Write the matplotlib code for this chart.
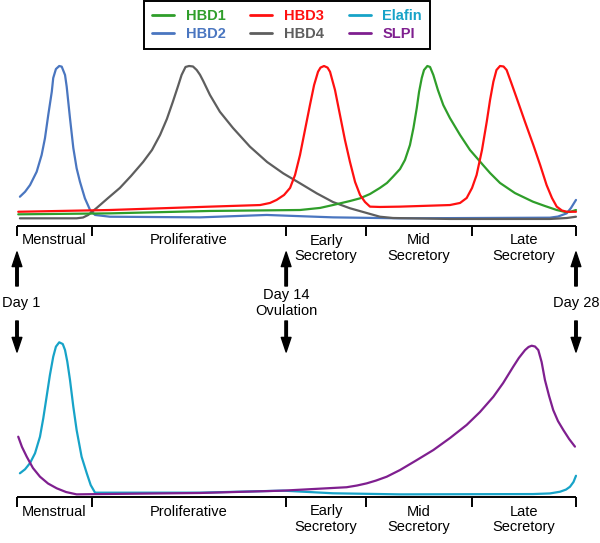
import matplotlib.pyplot as plt

plt.rcParams['font.family'] = ['Liberation Sans', 'DejaVu Sans']

# ---- data: cycle day vs. relative expression (peak = 100) ----
hbd1_day = [1.06, 5.49, 10.32, 14.67, 15.64, 16.26, 17.08, 17.57, 18.05, 18.53, 18.87, 19.16,
            19.50, 19.74, 19.98, 20.15, 20.31, 20.42, 20.55, 20.66, 20.82, 20.95, 21.11, 21.33,
            21.59, 21.91, 22.40, 22.88, 23.51, 23.85, 24.33, 25.05, 25.92, 26.50, 27.07, 27.47,
            27.71, 28.0]
hbd1_lvl = [7.3, 7.9, 9.4, 10.0, 11.3, 13.1, 15.6, 17.3, 20.0, 23.8, 26.9, 30.8,
            35.6, 41.3, 50.6, 61.3, 73.8, 83.8, 92.5, 97.5, 100.0, 99.4, 94.4, 85.0,
            75.6, 67.5, 56.9, 47.5, 38.1, 33.1, 26.9, 20.6, 15.2, 12.5, 10.0, 8.8,
            8.8, 10.0]

hbd2_day = [1.14, 1.39, 1.63, 1.95, 2.19, 2.35, 2.51, 2.68, 2.75, 2.88, 3.04, 3.16, 3.32,
            3.40, 3.56, 3.72, 3.88, 4.04, 4.28, 4.53, 4.77, 5.49, 9.84, 13.06, 16.26, 19.50,
            26.74, 27.13, 27.55, 27.76, 28.0]
hbd2_lvl = [18.3, 21.4, 25.6, 33.9, 44.4, 54.8, 69.4, 83.9, 92.5, 98.1, 100.0, 99.6, 94.4,
            87.1, 67.3, 48.8, 36.1, 27.7, 17.3, 10.0, 6.9, 5.8, 5.4, 6.9, 5.4, 4.8,
            5.2, 5.9, 7.9, 11.3, 16.3]

hbd3_day = [1.06, 5.49, 10.32, 12.74, 13.22, 13.54, 13.90, 14.19, 14.43, 14.67, 14.91, 15.15,
            15.35, 15.54, 15.66, 15.83, 16.00, 16.12, 16.36, 16.60, 16.84, 17.08, 17.33, 17.57,
            17.81, 18.05, 18.53, 19.50, 21.91, 22.40, 22.72, 22.98, 23.20, 23.46, 23.69, 23.85,
            24.01, 24.16, 24.33, 24.50, 24.65, 24.86, 25.14, 25.54, 25.94, 26.27, 26.58, 26.84,
            27.07, 27.32, 27.55, 28.0]
hbd3_lvl = [8.9, 10.0, 12.1, 13.1, 14.4, 16.3, 19.4, 23.8, 31.9, 44.4, 60.0, 75.6,
            88.1, 96.4, 99.0, 100.0, 99.0, 96.4, 85.0, 69.4, 53.8, 40.2, 27.5, 19.4,
            15.0, 12.1, 11.9, 12.1, 13.1, 14.4, 17.5, 23.8, 31.9, 47.5, 65.2, 78.8,
            90.2, 97.5, 100.0, 99.7, 97.5, 90.0, 79.8, 65.0, 50.6, 38.1, 25.6, 17.5,
            12.1, 9.7, 8.9, 8.9]

hbd4_day = [1.14, 3.88, 4.19, 4.44, 4.85, 5.40, 5.97, 6.51, 7.09, 7.52, 7.91, 8.24, 8.53,
            8.78, 8.95, 9.14, 9.31, 9.50, 9.68, 9.84, 10.00, 10.32, 10.80, 11.43, 12.25, 13.08,
            13.86, 14.67, 15.48, 16.26, 17.08, 17.90, 18.53, 19.16, 21.91, 26.74, 27.56, 28.0]
hbd4_lvl = [4.8, 4.8, 5.3, 6.9, 11.3, 17.5, 23.8, 31.3, 40.0, 47.5, 56.9, 66.9, 77.7,
            87.5, 94.4, 99.4, 100.0, 99.7, 97.5, 94.5, 90.5, 81.9, 71.4, 61.3, 49.6, 40.0,
            32.9, 26.7, 20.4, 15.0, 11.1, 8.1, 5.8, 5.0, 4.4, 4.4, 5.0, 5.8]

elafin_day = [1.14, 1.39, 1.63, 1.87, 2.11, 2.27, 2.43, 2.59, 2.75, 2.88, 3.04, 3.21, 3.32,
              3.43, 3.56, 3.72, 3.88, 4.12, 4.37, 4.56, 4.77, 9.84, 13.85, 16.26, 19.50,
              25.92, 26.74, 27.23, 27.52, 27.71, 27.88, 28.0]
elafin_lvl = [15.3, 17.9, 21.9, 28.2, 38.9, 50.8, 64.7, 78.7, 90.5, 97.0, 99.8, 98.7, 94.8,
              87.3, 75.5, 58.3, 43.2, 26.0, 15.3, 7.7, 2.8, 2.8, 4.1, 2.4, 1.7,
              1.9, 2.3, 3.4, 4.8, 6.6, 9.7, 13.7]

slpi_day = [1.06, 1.24, 1.47, 1.77, 2.11, 2.50, 2.92, 3.37, 3.88, 5.01, 9.84, 13.85, 16.92,
            17.42, 17.89, 18.34, 18.86, 19.50, 20.27, 21.11, 21.92, 22.72, 23.36, 24.01, 24.48,
            24.97, 25.24, 25.54, 25.71, 25.86, 26.02, 26.18, 26.34, 26.50, 26.70, 26.90, 27.13,
            27.39, 27.67, 27.95]
slpi_lvl = [38.9, 32.3, 26.0, 18.7, 13.1, 8.7, 5.6, 3.2, 1.7, 1.9, 2.6, 4.1, 6.3,
            7.4, 8.8, 10.6, 13.1, 17.4, 23.5, 30.3, 38.1, 46.5, 54.8, 64.7, 73.5,
            84.1, 89.7, 94.8, 96.8, 97.6, 97.1, 94.8, 87.1, 75.5, 65.2, 56.1, 49.0,
            43.2, 37.4, 32.5]

# phase boundaries (cycle day) and names
phase_edges = [1, 4.62, 14, 17.86, 22.98, 28]
phase_names = ['Menstrual', 'Proliferative', 'Early\nSecretory', 'Mid\nSecretory', 'Late\nSecretory']
marker_days = [1, 14, 28]
marker_labels = ['Day 1', 'Day 14\nOvulation', 'Day 28']

colors = {'HBD1': '#2f9e2a', 'HBD2': '#4a76c0', 'HBD3': '#ff1010',
          'HBD4': '#5e5e5e', 'Elafin': '#17a3c8', 'SLPI': '#7f1f8f'}

H = 543.0
FS = 10.5
fig = plt.figure(figsize=(6, 5.43), dpi=100)
xlim = (0.179, 29.16)

# top panel: level 0 at y=226 px, 1.6 px per unit
ax_top = fig.add_axes([0, (H - 226) / H, 1, 170 / H])
ax_top.set_ylim(0, 170 / 1.6)
# bottom panel: level 0 at y=497 px, 1.55 px per unit
ax_bot = fig.add_axes([0, (H - 497) / H, 1, 167 / H])
ax_bot.set_ylim(0, 167 / 1.55)

lw = 1.6
kw = dict(lw=lw, solid_joinstyle='round', solid_capstyle='round')
ax_top.plot(hbd1_day, hbd1_lvl, color=colors['HBD1'], label='HBD1', zorder=3, **kw)
ax_top.plot(hbd2_day, hbd2_lvl, color=colors['HBD2'], label='HBD2', zorder=2, **kw)
ax_top.plot(hbd3_day, hbd3_lvl, color=colors['HBD3'], label='HBD3', zorder=4, **kw)
ax_top.plot(hbd4_day, hbd4_lvl, color=colors['HBD4'], label='HBD4', zorder=2, **kw)
ax_bot.plot(elafin_day, elafin_lvl, color=colors['Elafin'], label='Elafin', zorder=2, **kw)
ax_bot.plot(slpi_day, slpi_lvl, color=colors['SLPI'], label='SLPI', zorder=3, **kw)

# phase brackets and labels under each panel
for ax, pxscale in [(ax_top, 1.6), (ax_bot, 1.55)]:
    ax.set_xlim(*xlim)
    ax.axis('off')
    ax.plot([phase_edges[0], phase_edges[-1]], [0, 0], color='black', lw=1.4,
            clip_on=False, solid_capstyle='butt')
    for e in phase_edges:
        ax.plot([e, e], [0, -10 / pxscale], color='black', lw=1.4, clip_on=False,
                solid_capstyle='butt')
    for a, b, name in zip(phase_edges[:-1], phase_edges[1:], phase_names):
        ax.text((a + b) / 2, -7.5 / pxscale, name, ha='center', va='top',
                fontsize=FS, linespacing=1.12, clip_on=False)

# day markers with arrows between the panels
arrow = dict(width=1.8, headwidth=7, headlength=10.5,
             facecolor='black', edgecolor='black', shrink=0)
text_shift = [4, 0, 0]
for d, lab, dx in zip(marker_days, marker_labels, text_shift):
    ax_top.annotate('', xy=(d, H - 252), xytext=(d, H - 286),
                    xycoords=('data', 'figure pixels'), textcoords=('data', 'figure pixels'),
                    arrowprops=arrow)
    ax_top.annotate('', xy=(d, H - 352), xytext=(d, H - 321),
                    xycoords=('data', 'figure pixels'), textcoords=('data', 'figure pixels'),
                    arrowprops=arrow)
    ax_top.annotate(lab, xy=(d, H - 303), xycoords=('data', 'figure pixels'),
                    xytext=(dx, 0), textcoords='offset pixels',
                    ha='center', va='center', fontsize=FS, linespacing=1.12,
                    annotation_clip=False)

# legend
h1, l1 = ax_top.get_legend_handles_labels()
h2, l2 = ax_bot.get_legend_handles_labels()
handles = dict(zip(l1 + l2, h1 + h2))
order = ['HBD1', 'HBD2', 'HBD3', 'HBD4', 'Elafin', 'SLPI']
leg = fig.legend([handles[k] for k in order], order, ncol=3,
                 loc='upper center', bbox_to_anchor=(287 / 600, 1 - 1 / H),
                 borderaxespad=0,
                 prop={'weight': 'bold', 'size': FS}, labelcolor='linecolor',
                 frameon=True, fancybox=False, edgecolor='black', framealpha=1,
                 handlelength=1.5, handletextpad=0.8, columnspacing=1.7,
                 labelspacing=0.3, borderpad=0.55)
leg.get_frame().set_linewidth(1.4)
for line in leg.get_lines():
    line.set_linewidth(2.0)

fig.savefig('out.png', dpi=100)
